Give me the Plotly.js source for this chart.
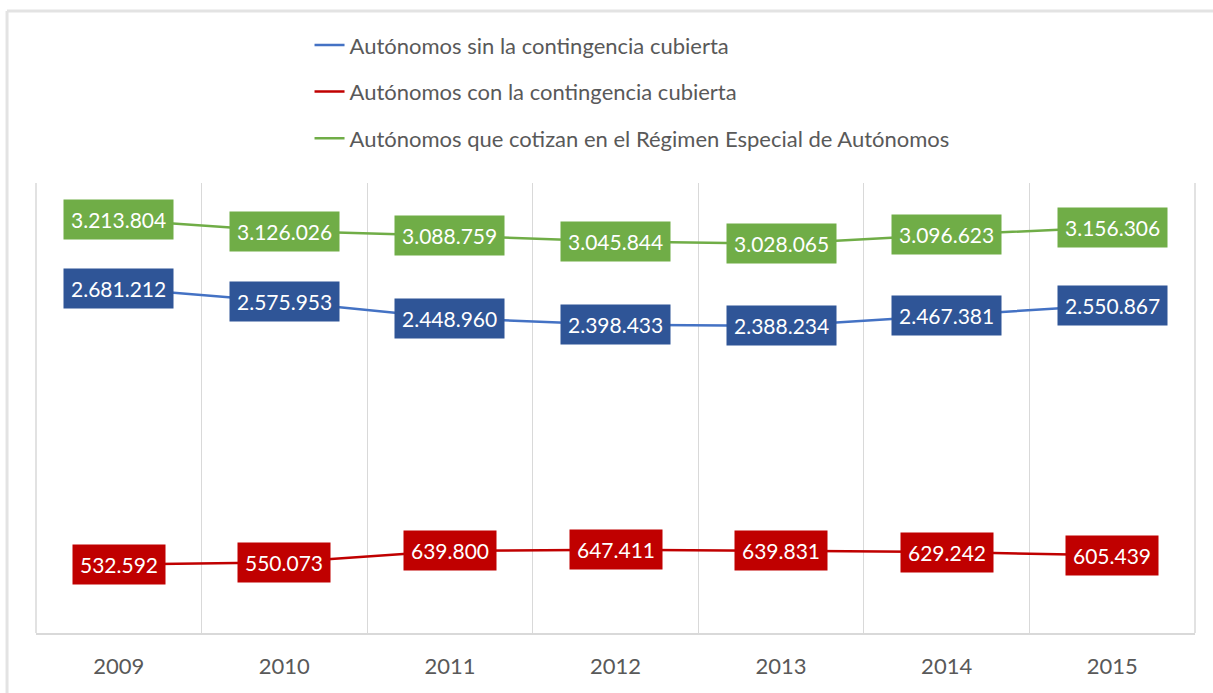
<!DOCTYPE html>
<html>
<head>
<meta charset="utf-8">
<script src="https://cdn.plot.ly/plotly-3.0.1.min.js"></script>
<style>
html,body{margin:0;padding:0;background:#fff;}
#chart{width:1213px;height:693px;}
</style>
</head>
<body>
<div id="chart"></div>
<script>
const years = ["2009","2010","2011","2012","2013","2014","2015"];
const sinContingencia = [2681212, 2575953, 2448960, 2398433, 2388234, 2467381, 2550867];
const conContingencia = [532592, 550073, 639800, 647411, 639831, 629242, 605439];
const regimenEspecial = [3213804, 3126026, 3088759, 3045844, 3028065, 3096623, 3156306];
const seriesNames = [
  "Autónomos sin la contingencia cubierta",
  "Autónomos con la contingencia cubierta",
  "Autónomos que cotizan en el Régimen Especial de Autónomos"
];

function fmt(v){ return String(v).replace(/\B(?=(\d{3})+(?!\d))/g, "."); }

const series = [
  {name: seriesNames[0], y: sinContingencia, line: "#4472c4", box: "#2f5597"},
  {name: seriesNames[1], y: conContingencia, line: "#c00000", box: "#c00000"},
  {name: seriesNames[2], y: regimenEspecial, line: "#70ad47", box: "#70ad47"}
];

const traces = series.map((s, i) => ({
  type: "scatter", mode: "lines", x: years, y: s.y, name: s.name,
  legendgroup: "g" + i,
  line: {color: s.line, width: 2.5},
  hoverinfo: "x+y"
}));

const annotations = [];
series.forEach(s => {
  s.y.forEach((v, j) => {
    annotations.push({
      x: j, y: v, xref: "x", yref: "y", text: fmt(v), showarrow: false,
      font: {family: "Lato, sans-serif", size: 21, color: "#ffffff"},
      bgcolor: s.box, borderpad: 7, xanchor: "center", yanchor: "middle"
    });
  });
});

const layout = {
  width: 1213, height: 693,
  paper_bgcolor: "#ffffff", plot_bgcolor: "#ffffff",
  margin: {l: 36, r: 18, t: 183, b: 60, autoexpand: false},
  font: {family: "Lato, sans-serif", color: "#595959"},
  showlegend: true,
  legend: {
    xref: "paper", yref: "paper", x: 0.236, y: 1.353,
    xanchor: "left", yanchor: "top",
    font: {family: "Lato, sans-serif", size: 22, color: "#595959"},
    traceorder: "grouped", tracegroupgap: 15,
    bgcolor: "rgba(0,0,0,0)"
  },
  xaxis: {
    type: "category", range: [-0.5, 6.5], tickson: "boundaries",
    showgrid: true, gridcolor: "#d9d9d9", gridwidth: 1,
    showline: true, linecolor: "#d9d9d9", linewidth: 1.5,
    ticks: "", ticklabelstandoff: 13,
    tickangle: 0,
    tickfont: {family: "Lato, sans-serif", size: 22, color: "#595959"},
    zeroline: false, fixedrange: true
  },
  yaxis: {
    range: [0, 3500000], showgrid: false, zeroline: false, showticklabels: false,
    showline: false, ticks: "", fixedrange: true
  },
  annotations: annotations,
  shapes: [
    {type: "line", xref: "paper", yref: "paper", x0: 0, x1: 0, y0: 0, y1: 1,
     line: {color: "#d9d9d9", width: 1.5}, layer: "below"},
    {type: "line", xref: "paper", yref: "paper", x0: 1, x1: 1, y0: 0, y1: 1,
     line: {color: "#d9d9d9", width: 1.5}, layer: "below"},
    {type: "line", xref: "paper", yref: "paper", x0: -0.025, x1: 1.02, y0: 1.382, y1: 1.382,
     line: {color: "#e3e3e3", width: 3}},
    {type: "line", xref: "paper", yref: "paper", x0: -0.025, x1: -0.025, y0: 1.382, y1: -0.14,
     line: {color: "#e3e3e3", width: 3}}
  ]
};

Plotly.newPlot("chart", traces, layout, {displayModeBar: false});
</script>
</body>
</html>
